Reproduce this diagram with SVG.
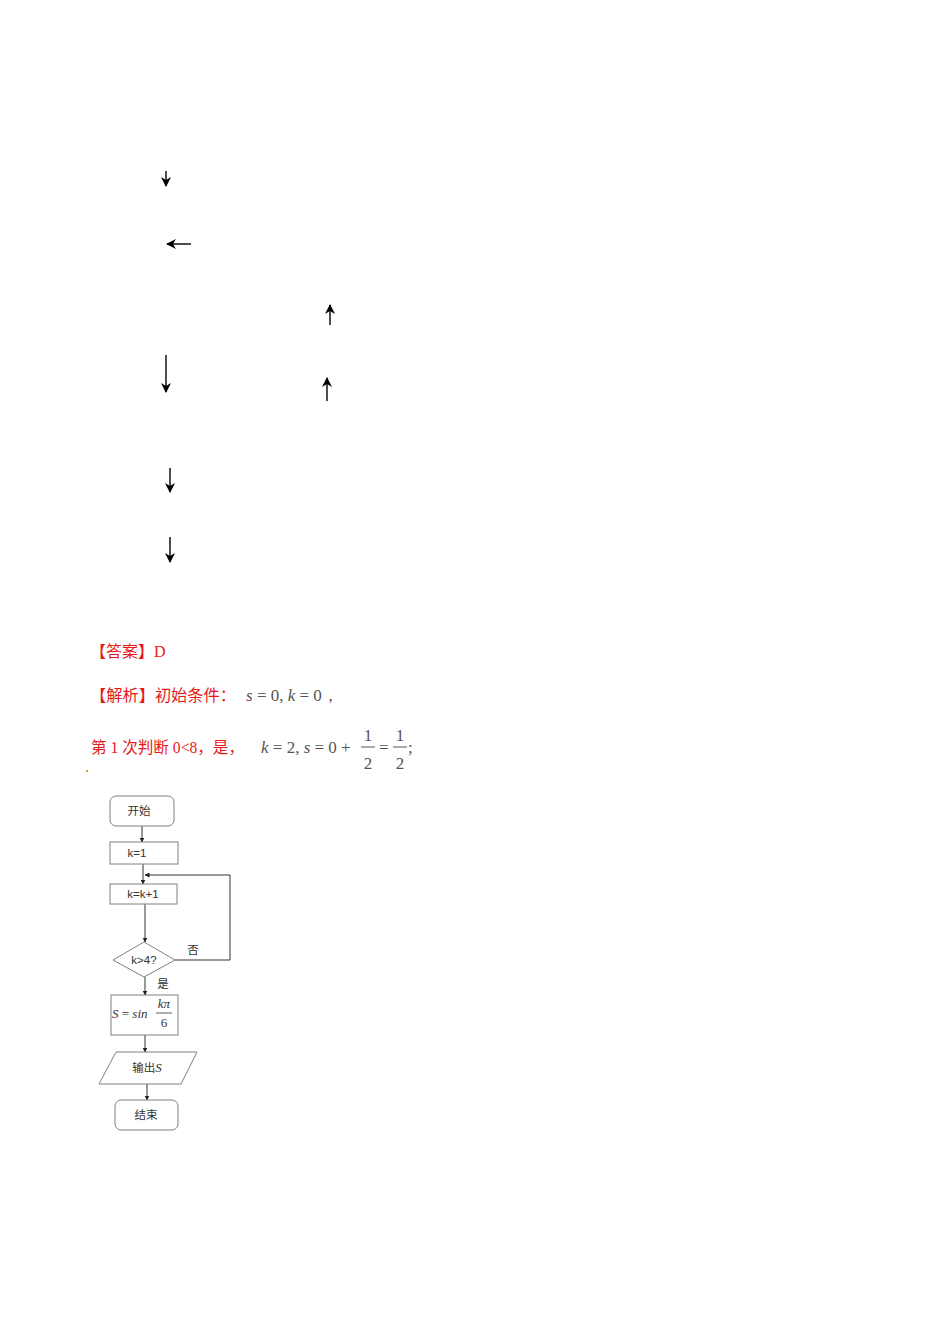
<svg xmlns="http://www.w3.org/2000/svg" width="950" height="1344" viewBox="0 0 950 1344">
<defs>
<marker id="bh" viewBox="0 0 10 10" refX="9" refY="5" markerWidth="12" markerHeight="10" markerUnits="userSpaceOnUse" orient="auto"><path d="M0,0 L10,5 L0,10 L3,5 z" fill="#000"/></marker>
<marker id="sh" viewBox="0 0 10 10" refX="9" refY="5" markerWidth="5" markerHeight="5" markerUnits="userSpaceOnUse" orient="auto"><path d="M0,0 L10,5 L0,10 z" fill="#222"/></marker>
</defs>
<style>
.red{font-family:"Liberation Serif","Noto Sans CJK SC",serif;font-size:16px;fill:#e8191a}
.math{font-family:"Liberation Serif","DejaVu Serif",serif;font-size:17px;fill:#555}
.mi{font-style:italic}
.box{fill:#fff;stroke:#808080;stroke-width:1}
.ft{font-family:"Liberation Sans","Noto Sans CJK SC",sans-serif;font-size:11.5px;fill:#333;text-anchor:middle}
.fl{stroke:#333;stroke-width:1;fill:none}
.ar{stroke:#000;stroke-width:1.4;fill:none}
</style>
<g id="stray-arrows">
<line class="ar" x1="166" y1="171" x2="166" y2="186" marker-end="url(#bh)"/>
<line class="ar" x1="191" y1="244" x2="167" y2="244" marker-end="url(#bh)"/>
<line class="ar" x1="330" y1="325" x2="330" y2="305" marker-end="url(#bh)"/>
<line class="ar" x1="166" y1="355" x2="166" y2="392" marker-end="url(#bh)"/>
<line class="ar" x1="327" y1="401" x2="327" y2="378" marker-end="url(#bh)"/>
<line class="ar" x1="170" y1="468" x2="170" y2="492" marker-end="url(#bh)"/>
<line class="ar" x1="170" y1="537" x2="170" y2="562" marker-end="url(#bh)"/>
</g>
<g id="text-answer">
<text class="red" x="90" y="657">【答案】D</text>
</g>
<g id="text-analysis">
<text class="red" x="90" y="701" textLength="146" lengthAdjust="spacingAndGlyphs">【解析】初始条件：</text>
<text class="math" x="246" y="701"><tspan class="mi">s</tspan> = 0, <tspan class="mi">k</tspan> = 0，</text>
</g>
<g id="text-step1">
<text class="red" x="91" y="753" textLength="153" lengthAdjust="spacingAndGlyphs">第 1 次判断 0&lt;8，是，</text>
<text class="math" x="261" y="753"><tspan class="mi">k</tspan> = 2, <tspan class="mi">s</tspan> = 0 +</text>
<text class="math" x="368" y="741" text-anchor="middle">1</text>
<line x1="361" y1="747" x2="375" y2="747" stroke="#555" stroke-width="1"/>
<text class="math" x="368" y="769" text-anchor="middle">2</text>
<text class="math" x="379" y="753">=</text>
<text class="math" x="400" y="741" text-anchor="middle">1</text>
<line x1="393" y1="747" x2="407" y2="747" stroke="#555" stroke-width="1"/>
<text class="math" x="400" y="769" text-anchor="middle">2</text>
<text class="math" x="408" y="753">;</text>
<rect x="86" y="770" width="2" height="2" fill="#d4a017"/>
</g>
<g id="connectors">
<line class="fl" x1="142" y1="826" x2="142" y2="842" marker-end="url(#sh)"/>
<line class="fl" x1="143" y1="864" x2="143" y2="884" marker-end="url(#sh)"/>
<polyline class="fl" points="175,960 230,960 230,875 145,875" marker-end="url(#sh)"/>
<line class="fl" x1="145" y1="904" x2="145" y2="942" marker-end="url(#sh)"/>
<line class="fl" x1="145" y1="977" x2="145" y2="995" marker-end="url(#sh)"/>
<line class="fl" x1="145" y1="1035" x2="145" y2="1052" marker-end="url(#sh)"/>
<line class="fl" x1="147" y1="1084" x2="147" y2="1100" marker-end="url(#sh)"/>
<text class="ft" x="193" y="954">否</text>
<text class="ft" x="163" y="988">是</text>
</g>
<g id="start">
<rect class="box" x="110" y="796" width="64" height="30" rx="6"/>
<text class="ft" x="139" y="815">开始</text>
</g>
<g id="k1">
<rect class="box" x="110" y="842" width="68" height="22"/>
<text class="ft" x="137" y="857">k=1</text>
</g>
<g id="kinc">
<rect class="box" x="110" y="884" width="67" height="20"/>
<text class="ft" x="143" y="898">k=k+1</text>
</g>
<g id="cond">
<polygon class="box" points="144,942 175,960 144,977 113,960"/>
<text class="ft" x="144" y="964">k&gt;4?</text>
</g>
<g id="calc">
<rect class="box" x="111" y="995" width="67" height="40"/>
<text x="112" y="1018" font-family="Liberation Serif,serif" font-size="13" fill="#333"><tspan font-style="italic">S</tspan> = <tspan font-style="italic">sin</tspan></text>
<text x="164" y="1008" font-family="Liberation Serif,serif" font-size="13" font-style="italic" fill="#333" text-anchor="middle">kπ</text>
<line x1="156" y1="1013" x2="172" y2="1013" stroke="#333" stroke-width="0.8"/>
<text x="164" y="1027" font-family="Liberation Serif,serif" font-size="13" fill="#333" text-anchor="middle">6</text>
</g>
<g id="output">
<polygon class="box" points="116,1052 197,1052 181,1084 99,1084"/>
<text class="ft" x="147" y="1072">输出<tspan font-family="Liberation Serif,serif" font-style="italic" font-size="13">S</tspan></text>
</g>
<g id="end">
<rect class="box" x="115" y="1100" width="63" height="30" rx="6"/>
<text class="ft" x="146" y="1119">结束</text>
</g>
</svg>
